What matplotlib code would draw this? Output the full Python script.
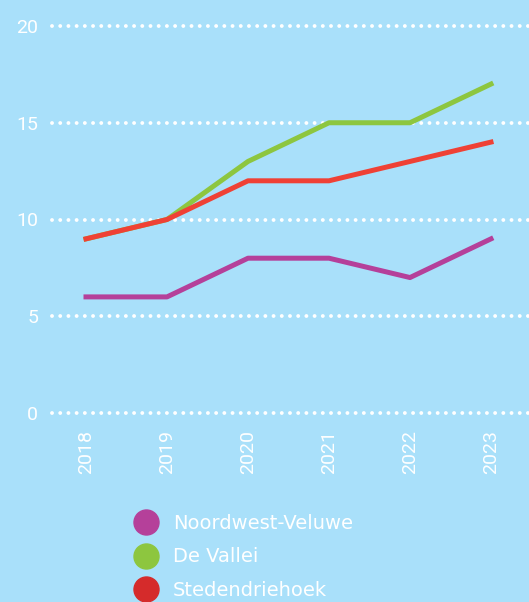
import matplotlib
matplotlib.use("Agg")
import matplotlib.pyplot as plt
from matplotlib.lines import Line2D

years = [2018, 2019, 2020, 2021, 2022, 2023]
series_names = ["Noordwest-Veluwe", "De Vallei", "Stedendriehoek"]
noordwest = [6, 6, 8, 8, 7, 9]
vallei = [9, 10, 13, 15, 15, 17]
steden = [9, 10, 12, 12, 13, 14]
yticks = [0, 5, 10, 15, 20]

bg = "#a9e0fa"
line_colors = ["#b5409a", "#8dc63f", "#ef4135"]
legend_colors = ["#b5409a", "#8dc63f", "#d52b2b"]

plt.rcParams["font.family"] = ["Roboto", "DejaVu Sans"]

fig = plt.figure(figsize=(5.29, 6.02), dpi=100, facecolor=bg)
ax = fig.add_axes([52 / 529, 189 / 602, 477 / 529, 387 / 602])
ax.set_facecolor(bg)

# dotted white gridlines
for y in yticks:
    ax.axhline(y, color="white", lw=2.8, linestyle=(0, (0.01, 2.1)),
               dash_capstyle="round", clip_on=False, zorder=1)

ax.plot(years, noordwest, color=line_colors[0], lw=3.6, zorder=3)
ax.plot(years, vallei, color=line_colors[1], lw=3.6, zorder=3)
ax.plot(years, steden, color=line_colors[2], lw=3.6, zorder=4)

ax.set_xlim(2018 - 34 / 81, 2023 + 38 / 81)
ax.set_ylim(0, 20)
ax.set_xticks(years)
ax.set_xticklabels([str(y) for y in years], rotation=90, color="white",
                   fontsize=14)
ax.set_yticks(yticks)
ax.set_yticklabels([str(y) for y in yticks], color="white", fontsize=14)
ax.tick_params(axis="both", length=0)
ax.tick_params(axis="y", pad=10)
ax.tick_params(axis="x", pad=12)
for s in ax.spines.values():
    s.set_visible(False)

handles = [Line2D([], [], marker="o", linestyle="none", markersize=18,
                  markerfacecolor=c, markeredgecolor=c) for c in legend_colors]
leg = fig.legend(handles, series_names, loc="upper left",
                 bbox_to_anchor=(127 / 529, 1 - 514 / 602), frameon=False,
                 labelcolor="white", handletextpad=0.35,
                 labelspacing=0.74, borderaxespad=0, borderpad=0,
                 prop={"family": ["DejaVu Sans"], "size": 14})

fig.savefig("out.png", dpi=100, facecolor=bg)
